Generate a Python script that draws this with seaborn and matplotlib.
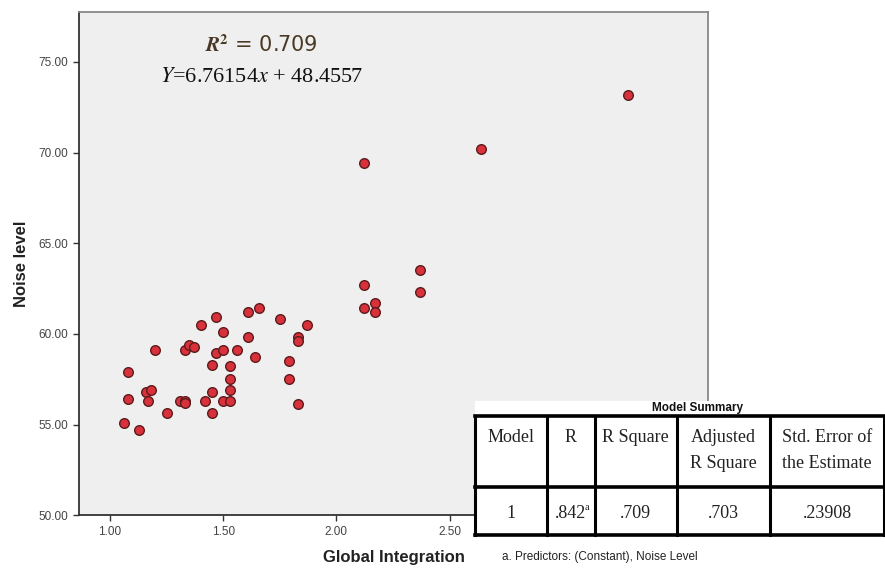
import numpy as np
import pandas as pd
import matplotlib
matplotlib.use("Agg")
import matplotlib.pyplot as plt
import seaborn as sns
from matplotlib.patches import Rectangle

# ---------------------------------------------------------
# DATA
# ---------------------------------------------------------
global_integration = [
    1.06, 1.08, 1.08, 1.13, 1.16, 1.18, 1.17, 1.20, 1.25, 1.31,
    1.33, 1.33, 1.33, 1.35, 1.37, 1.40, 1.42, 1.45, 1.45, 1.45,
    1.47, 1.47, 1.50, 1.50, 1.50, 1.53, 1.53, 1.53, 1.53, 1.56,
    1.61, 1.61, 1.64, 1.66, 1.75, 1.79, 1.79, 1.83, 1.83, 1.83,
    1.87, 2.12, 2.12, 2.17, 2.17, 2.37, 2.12, 2.37, 2.64, 3.29,
]
noise_level = [
    55.10, 57.90, 56.41, 54.72, 56.81, 56.91, 56.32, 59.11, 55.62, 56.32,
    56.32, 56.18, 59.11, 59.40, 59.30, 60.51, 56.32, 58.30, 56.81, 55.62,
    60.91, 58.93, 60.10, 59.11, 56.32, 58.21, 57.51, 56.91, 56.32, 59.11,
    61.21, 59.81, 58.71, 61.41, 60.80, 58.51, 57.51, 59.81, 59.59, 56.12,
    60.51, 62.70, 61.41, 61.72, 61.21, 62.31, 69.40, 63.52, 70.18, 73.19,
]

x_ticks = [1.00, 1.50, 2.00, 2.50]
y_ticks = [50.00, 55.00, 60.00, 65.00, 70.00, 75.00]

r_squared_label = "0.709"
slope = "6.76154"
intercept = "48.4557"

table_title = "Model Summary"
table_headers = ["Model", "R", "R Square", "Adjusted\nR Square", "Std. Error of\nthe Estimate"]
table_values = ["1", ".842", ".709", ".703", ".23908"]
table_marks = ["", "a", "", "", ""]
table_note = "a. Predictors: (Constant), Noise Level"

df = pd.DataFrame({"Global Integration": global_integration,
                   "Noise level": noise_level})

# ---------------------------------------------------------
# FIGURE
# ---------------------------------------------------------
sns.set_theme(style="ticks")
plt.rcParams["font.family"] = ["Liberation Sans", "DejaVu Sans"]
plt.rcParams["mathtext.fontset"] = "stix"

fig = plt.figure(figsize=(8.85, 5.70), dpi=100)
ax = fig.add_axes([79 / 885, 1 - 515.3 / 570, (708 - 79) / 885, (515.3 - 12) / 570])
ax.set_facecolor("#efefef")

sns.scatterplot(
    data=df,
    x="Global Integration",
    y="Noise level",
    s=48,
    color="#d8313b",
    edgecolor="#5b1b1b",
    linewidth=1.0,
    ax=ax,
    zorder=3,
)

ax.set_xlim(0.863, 3.642)
ax.set_ylim(50, 77.75)
ax.set_xticks(x_ticks)
ax.set_xticklabels([f"{v:.2f}" for v in x_ticks])
ax.set_yticks(y_ticks)
ax.set_yticklabels([f"{v:.2f}" for v in y_ticks])
ax.tick_params(axis="both", labelsize=8.5, labelcolor="#444444",
               color="#333333", length=4, width=1, direction="out")
ax.grid(False)

for side in ["left", "bottom"]:
    ax.spines[side].set_color("#333333")
    ax.spines[side].set_linewidth(1.3)
for side in ["top", "right"]:
    ax.spines[side].set_visible(True)
    ax.spines[side].set_color("#888888")
    ax.spines[side].set_linewidth(1.3)

ax.set_xlabel("Global Integration", fontsize=12, fontweight="bold",
              color="#222222", labelpad=9)
ax.set_ylabel("Noise level", fontsize=12, fontweight="bold",
              color="#222222", labelpad=7)

# regression annotation
ax.text(0.29, 0.935, rf"$\mathbfit{{R}}^{{\mathbf{{2}}}}$ = {r_squared_label}",
        transform=ax.transAxes, ha="center", va="center", fontsize=15,
        color="#4a3a25", family=["DejaVu Sans"])
ax.text(0.29, 0.87, rf"$Y$={slope}$x$ + {intercept}", transform=ax.transAxes,
        ha="center", va="center", fontsize=16, color="#111111",
        family=["Liberation Serif"])

# ---------------------------------------------------------
# MODEL SUMMARY TABLE (overlay, pixel coordinates)
# ---------------------------------------------------------
ov = fig.add_axes([0, 0, 1, 1], zorder=10)
ov.set_xlim(0, 885)
ov.set_ylim(570, 0)
ov.axis("off")
ov.patch.set_alpha(0)

ov.add_patch(Rectangle((475, 401), 410, 169, facecolor="white",
                       edgecolor="none"))

col_edges = [475, 546.7, 595, 676.7, 770, 884]
top, mid, bottom = 416, 486.7, 535
for xe in col_edges:
    ov.plot([xe, xe], [top, bottom], color="black", lw=2.2,
            solid_capstyle="projecting")
for ye in [top, mid, bottom]:
    ov.plot([col_edges[0], col_edges[-1]], [ye, ye], color="black", lw=2.6,
            solid_capstyle="projecting")

ov.text(697, 408, table_title, ha="center", va="center", fontsize=8.5,
        fontweight="bold", color="#111111")

for i, (h, v, m) in enumerate(zip(table_headers, table_values, table_marks)):
    xc = (col_edges[i] + col_edges[i + 1]) / 2
    for j, line in enumerate(h.split("\n")):
        ov.text(xc, 437 + 27 * j, line, ha="center", va="center",
                fontsize=13, family=["Liberation Serif"], color="#222222")
    ov.text(xc, 514, v, ha="center", va="center", fontsize=13,
            family=["Liberation Serif"], color="#222222")
    if m:
        ov.text(xc + 14, 507, m, ha="left", va="center", fontsize=7.5,
                family=["Liberation Serif"], color="#222222")

ov.text(502, 557, table_note, ha="left", va="center", fontsize=8.5,
        color="#222222")

fig.savefig("out.png", dpi=100)
